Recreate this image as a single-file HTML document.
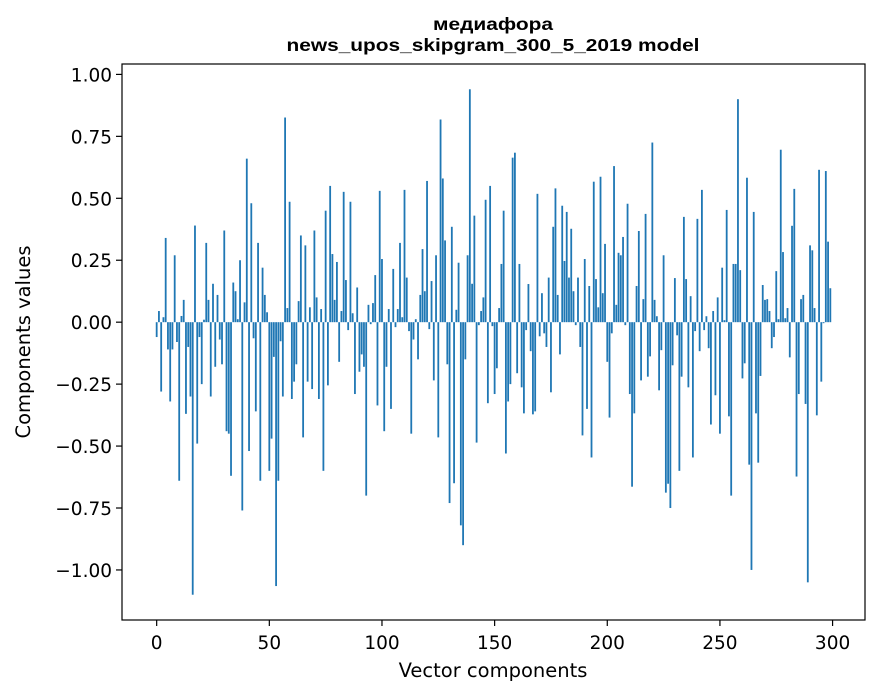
<!DOCTYPE html>
<html><head><meta charset="utf-8"><style>
html,body{margin:0;padding:0;background:#fff;}
svg{display:block;font-family:"DejaVu Sans","Liberation Sans",sans-serif;}
</style></head><body>
<svg id="chart" width="880" height="696" viewBox="0 0 880 696" xmlns="http://www.w3.org/2000/svg">
<rect x="0" y="0" width="880" height="696" fill="#fff"/>
<text x="493" y="30" text-anchor="middle" font-size="17.5" font-weight="bold" font-family="Liberation Sans, sans-serif" textLength="120" lengthAdjust="spacingAndGlyphs">медиафора</text>
<text x="493" y="51" text-anchor="middle" font-size="17.5" font-weight="bold" font-family="Liberation Sans, sans-serif" textLength="413" lengthAdjust="spacingAndGlyphs">news_upos_skipgram_300_5_2019 model</text>
<g id="bars"></g>
<g id="xticks"></g>
<g id="yticks"></g>
<rect x="122" y="64" width="743" height="556" fill="none" stroke="#000" stroke-width="1.2"/>
<text x="493" y="677" text-anchor="middle" font-size="19.5">Vector components</text>
<text x="0" y="0" transform="translate(30,342) rotate(-90)" text-anchor="middle" font-size="19.5">Components values</text>
</svg>
<script>
const values = [
-0.06,0.045,-0.28,0.02,0.34,-0.11,-0.32,-0.11,0.27,-0.08,
-0.64,0.025,0.09,-0.37,-0.10,-0.30,-1.10,0.39,-0.49,-0.06,
-0.25,0.01,0.32,0.09,-0.30,0.155,-0.18,0.11,-0.07,-0.17,
0.37,-0.44,-0.45,-0.62,0.16,0.125,0.012,0.25,-0.76,0.08,
0.66,-0.52,0.48,-0.065,-0.36,0.32,-0.64,0.22,0.11,0.04,
-0.60,-0.47,-0.14,-1.065,-0.64,-0.077,-0.30,0.826,0.057,0.486,
-0.31,-0.24,-0.17,0.085,0.35,-0.465,0.31,-0.24,0.06,-0.27,
0.37,0.10,-0.31,0.053,-0.60,0.45,-0.255,0.55,0.275,0.09,
0.243,-0.16,0.045,0.526,0.17,-0.032,0.486,0.036,-0.29,0.14,
-0.20,-0.13,-0.18,-0.70,0.07,-0.008,0.077,0.19,-0.336,0.53,
0.255,-0.44,-0.18,0.053,-0.35,0.215,-0.02,0.053,0.32,0.02,
0.534,0.18,-0.036,-0.45,-0.07,0.012,-0.15,0.11,0.295,0.125,
0.57,-0.028,0.166,-0.235,0.27,-0.465,0.818,0.58,0.33,-0.17,
-0.73,0.385,-0.65,0.05,0.24,-0.82,-0.90,-0.15,0.27,0.94,
0.155,0.43,-0.486,-0.012,0.045,0.10,0.494,-0.327,0.55,-0.016,
-0.29,-0.186,0.057,0.235,0.45,-0.53,-0.32,-0.25,0.664,0.684,
-0.206,0.235,-0.263,-0.368,-0.032,0.154,-0.117,-0.372,-0.36,0.518,
-0.057,0.117,-0.045,-0.10,0.18,-0.283,0.385,0.54,0.11,-0.13,
0.47,0.247,0.445,0.18,0.377,0.125,-0.012,0.18,-0.10,-0.457,
0.255,-0.35,0.146,-0.546,0.567,0.174,0.06,0.587,0.117,0.316,
-0.16,-0.385,-0.045,0.63,0.07,0.28,0.27,0.344,-0.012,0.478,
-0.29,-0.664,-0.368,0.146,0.368,-0.235,0.093,0.437,-0.22,-0.138,
0.725,0.09,0.024,-0.275,-0.113,0.27,-0.688,-0.652,-0.75,-0.174,
0.178,-0.053,-0.60,-0.22,0.425,0.174,-0.263,0.105,-0.546,-0.036,
0.417,-0.117,0.534,-0.032,0.024,-0.105,-0.413,0.045,-0.295,0.10,
-0.45,0.22,0.008,0.453,-0.38,-0.70,0.235,0.235,0.90,0.21,
-0.227,-0.166,0.583,-0.575,-1.00,0.445,-0.368,-0.567,-0.217,0.15,
0.09,0.093,0.045,-0.105,-0.06,0.206,0.012,0.696,0.283,0.016,
0.057,-0.142,0.389,0.538,-0.623,-0.29,0.093,0.11,-0.33,-1.05,
0.31,0.29,0.057,-0.376,0.615,-0.24,-0.004,0.61,0.325,0.137
];
const xTickValues = [0,50,100,150,200,250,300];
const xTickLabels = ["0","50","100","150","200","250","300"];
const yTickValues = [1.0,0.75,0.5,0.25,0,-0.25,-0.5,-0.75,-1.0];
const yTickLabels = ["1.00","0.75","0.50","0.25","0.00","\u22120.25","\u22120.50","\u22120.75","\u22121.00"];

const NS = "http://www.w3.org/2000/svg";
const L = 122, R = 865, T = 64, B = 620;
const barW = 0.8;
const xMin0 = -barW/2, xMax0 = values.length - 1 + barW/2;
const xPad = (xMax0 - xMin0) * 0.05;
const xlo = xMin0 - xPad, xhi = xMax0 + xPad;
const vmin = Math.min(0, ...values), vmax = Math.max(0, ...values);
const yPad = (vmax - vmin) * 0.05;
const ylo = vmin - yPad, yhi = vmax + yPad;
function xs(v){ return L + (v - xlo) / (xhi - xlo) * (R - L); }
function ys(v){ return B - (v - ylo) / (yhi - ylo) * (B - T); }

const gb = document.getElementById('bars');
values.forEach((v, i) => {
  const r = document.createElementNS(NS, 'rect');
  const x0 = xs(i - barW/2), x1 = xs(i + barW/2);
  const y0 = ys(Math.max(v, 0)), y1 = ys(Math.min(v, 0));
  r.setAttribute('x', x0);
  r.setAttribute('width', x1 - x0);
  r.setAttribute('y', y0);
  r.setAttribute('height', Math.max(y1 - y0, 0.01));
  r.setAttribute('fill', '#1f77b4');
  
  
  gb.appendChild(r);
});

const gx = document.getElementById('xticks');
xTickValues.forEach((t, k) => {
  const x = xs(t);
  const ln = document.createElementNS(NS, 'line');
  ln.setAttribute('x1', x); ln.setAttribute('x2', x);
  ln.setAttribute('y1', B); ln.setAttribute('y2', B + 6);
  ln.setAttribute('stroke', '#000');
  ln.setAttribute('stroke-width', '1.2');
  
  
  gx.appendChild(ln);
  const tx = document.createElementNS(NS, 'text');
  tx.setAttribute('x', x); tx.setAttribute('y', 649);
  tx.setAttribute('text-anchor', 'middle');
  tx.setAttribute('font-size', '18.5');
  tx.textContent = xTickLabels[k];
  
  
  gx.appendChild(tx);
});

const gy = document.getElementById('yticks');
yTickValues.forEach((t, k) => {
  const y = ys(t);
  const ln = document.createElementNS(NS, 'line');
  ln.setAttribute('x1', L - 6); ln.setAttribute('x2', L);
  ln.setAttribute('y1', y); ln.setAttribute('y2', y);
  ln.setAttribute('stroke', '#000');
  ln.setAttribute('stroke-width', '1.2');
  
  
  gy.appendChild(ln);
  const tx = document.createElementNS(NS, 'text');
  tx.setAttribute('x', 112); tx.setAttribute('y', y + 7);
  tx.setAttribute('text-anchor', 'end');
  tx.setAttribute('font-size', '18.5');
  tx.textContent = yTickLabels[k];
  
  
  gy.appendChild(tx);
});
</script>
</body></html>
